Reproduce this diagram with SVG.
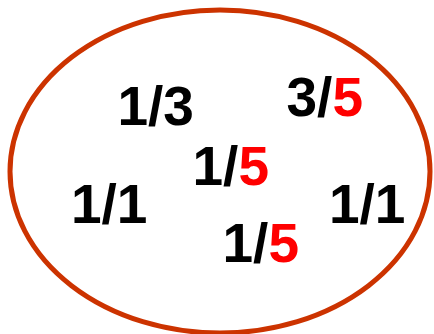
<svg xmlns="http://www.w3.org/2000/svg" width="434" height="334" viewBox="0 0 434 334">
<style>
.t{font-family:"Liberation Sans",Arial,sans-serif;font-weight:bold;font-size:55px;fill:#000}
.r{fill:#FF0000}
</style>
<rect width="434" height="334" fill="#fff"/>
<ellipse id="ring" cx="220" cy="171.5" rx="210" ry="161.5" fill="none" stroke="#CC3300" stroke-width="5"/>
<g id="n1"><text class="t" x="117.5" y="125">1/3</text></g>
<g id="n2"><text class="t" x="286.5" y="116">3/<tspan class="r">5</tspan></text></g>
<g id="n3"><text class="t" x="192.5" y="185">1/<tspan class="r">5</tspan></text></g>
<g id="n4"><text class="t" x="71" y="223">1/1</text></g>
<g id="n5"><text class="t" x="329" y="223">1/1</text></g>
<g id="n6"><text class="t" x="222.5" y="261.5">1/<tspan class="r">5</tspan></text></g>
<g id="connectors"></g>
</svg>
